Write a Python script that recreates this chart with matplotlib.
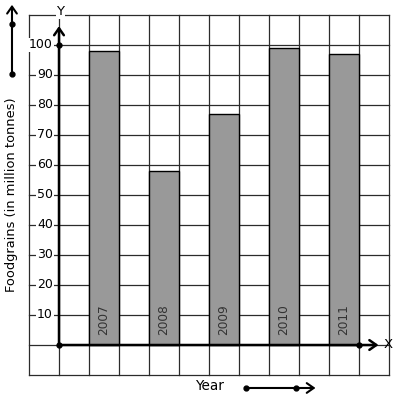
import matplotlib
matplotlib.use("Agg")
import matplotlib.pyplot as plt

years = ["2007", "2008", "2009", "2010", "2011"]
values = [98, 58, 77, 99, 97]
bar_pos = [1, 3, 5, 7, 9]
y_ticks = [10, 20, 30, 40, 50, 60, 70, 80, 90, 100]
ylabel = "Foodgrains (in million tonnes)"
xlabel = "Year"

W, H = 397, 401
fig = plt.figure(figsize=(W / 100, H / 100), dpi=100)
ax = fig.add_axes([0, 0, 1, 1])
ax.set_xlim(-59 / 30, (W - 59) / 30)
ax.set_ylim((345 - H) / 3, 345 / 3)
ax.axis("off")

gc = "#2b2b2b"
# grid
for gx in range(-1, 12):
    ax.plot([gx, gx], [-10, 110], color=gc, lw=0.9, zorder=1)
for gy in range(-10, 111, 10):
    ax.plot([-1, 11], [gy, gy], color=gc, lw=0.9, zorder=1)

# bars
ax.bar(bar_pos, values, width=1, align="edge", color="#999999",
       edgecolor="black", linewidth=1.0, zorder=2)
for x, lab in zip(bar_pos, years):
    ax.text(x + 0.5, 3.3, lab, rotation=90, ha="center", va="bottom",
            fontsize=8.7, color="#333333", zorder=3)

# axes
ax.annotate("", xy=(0, 106.3), xytext=(0, 0),
            arrowprops=dict(arrowstyle="->,head_length=0.5,head_width=0.35",
                            color="black", lw=1.8, shrinkA=0, shrinkB=0), zorder=4)
ax.annotate("", xy=(10.65, 0), xytext=(0, 0),
            arrowprops=dict(arrowstyle="->,head_length=0.5,head_width=0.35",
                            color="black", lw=1.8, shrinkA=0, shrinkB=0), zorder=4)
ax.plot([0, 0, 10], [0, 100, 0], "o", color="black", ms=3.5, zorder=5)

ax.text(0.05, 111.2, "Y", ha="center", va="center", fontsize=9.5, zorder=6,
        bbox=dict(facecolor="white", edgecolor="none", pad=0.5))
ax.text(10.97, 0.3, "X", ha="center", va="center", fontsize=9.5, zorder=6)

for v in y_ticks:
    ax.text(-0.2, v, str(v), ha="right", va="center", fontsize=9, zorder=6,
            bbox=dict(facecolor="white", edgecolor="none", pad=0.6))

ax.text(-1.567, 50, ylabel, rotation=90, ha="center", va="center", fontsize=9.4)
ax.text((209 - 59) / 30, (345 - 386.5) / 3, xlabel, ha="center", va="center", fontsize=9.8)

# decorative arrows
ax.annotate("", xy=(-1.567, 113.4), xytext=(-1.567, 90.3),
            arrowprops=dict(arrowstyle="->,head_length=0.5,head_width=0.35",
                            color="black", lw=1.5, shrinkA=0, shrinkB=0))
ax.plot([-1.567, -1.567], [90.3, 107], "o", color="black", ms=3.5)
ax.annotate("", xy=(8.55, -14.33), xytext=(6.233, -14.33),
            arrowprops=dict(arrowstyle="->,head_length=0.5,head_width=0.35",
                            color="black", lw=1.5, shrinkA=0, shrinkB=0))
ax.plot([6.233, 7.9], [-14.33, -14.33], "o", color="black", ms=3.5)

fig.savefig("out.png", dpi=100)
